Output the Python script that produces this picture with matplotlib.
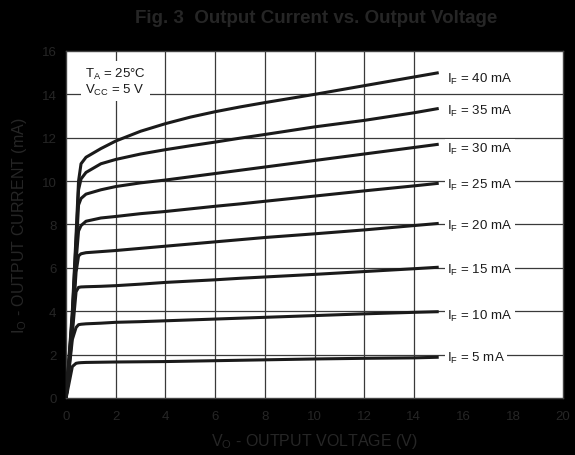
import matplotlib
matplotlib.use("Agg")
import matplotlib.pyplot as plt

plt.rcParams['font.family'] = ['Liberation Sans', 'DejaVu Sans']
plt.rcParams['mathtext.fontset'] = 'custom'
plt.rcParams['mathtext.rm'] = 'Liberation Sans'
plt.rcParams['mathtext.it'] = 'Liberation Sans'

# output voltage (V) sample points shared by all curves
vo = [0, 0.25, 0.4, 0.5, 0.6, 0.8, 1.4, 2, 3, 4, 5, 6, 7, 8, 10, 12, 14, 15]

# output current (mA) for each forward current
io_40 = [0, 4.0, 7.5, 10.0, 10.8, 11.1, 11.5, 11.85, 12.3, 12.65, 12.95, 13.2, 13.42, 13.62, 14.0, 14.4, 14.8, 15.0]
io_35 = [0, 3.8, 7.2, 9.6, 10.1, 10.4, 10.8, 11.0, 11.25, 11.45, 11.63, 11.8, 11.98, 12.15, 12.5, 12.8, 13.15, 13.35]
io_30 = [0, 3.6, 6.8, 8.9, 9.2, 9.4, 9.6, 9.75, 9.92, 10.05, 10.2, 10.35, 10.5, 10.65, 10.95, 11.25, 11.55, 11.7]
io_25 = [0, 3.4, 6.3, 7.7, 7.95, 8.15, 8.3, 8.37, 8.5, 8.6, 8.72, 8.84, 8.95, 9.07, 9.31, 9.55, 9.78, 9.9]
io_20 = [0, 3.2, 5.8, 6.55, 6.65, 6.7, 6.75, 6.8, 6.9, 7.0, 7.1, 7.2, 7.3, 7.4, 7.57, 7.75, 7.95, 8.05]
io_15 = [0, 3.0, 4.9, 5.1, 5.12, 5.13, 5.15, 5.18, 5.25, 5.33, 5.39, 5.45, 5.52, 5.58, 5.7, 5.83, 5.96, 6.03]
io_10 = [0, 2.7, 3.25, 3.38, 3.4, 3.42, 3.45, 3.49, 3.52, 3.56, 3.6, 3.64, 3.68, 3.72, 3.8, 3.88, 3.95, 3.98]
io_5 = [0, 1.45, 1.6, 1.62, 1.63, 1.64, 1.65, 1.66, 1.67, 1.68, 1.7, 1.72, 1.74, 1.76, 1.8, 1.83, 1.85, 1.88]

curves = [io_40, io_35, io_30, io_25, io_20, io_15, io_10, io_5]
if_labels = ['40', '35', '30', '25', '20', '15', '10', '5']
label_y = [14.75, 13.27, 11.52, 9.85, 7.95, 5.95, 3.8, 1.88]

xticks = [0, 2, 4, 6, 8, 10, 12, 14, 16, 18, 20]
yticks = [0, 2, 4, 6, 8, 10, 12, 14, 16]
xgrid = [2, 4, 6, 8, 10, 12, 14]
ygrid = [2, 4, 6, 8, 10, 12, 14]

dim = '#262626'

fig = plt.figure(figsize=(5.75, 4.56), dpi=100, facecolor='black')
ax = fig.add_axes([0.115, 0.125, 0.864, 0.761])
ax.set_facecolor('white')

for x in xgrid:
    ax.axvline(x, color='#3a3a3a', lw=0.9, zorder=1)
for y in ygrid:
    ax.axhline(y, color='#3a3a3a', lw=0.9, zorder=1)

for io in curves:
    ax.plot(vo, io, color='#1a1a1a', lw=2.2, solid_capstyle='butt', zorder=3)

for lab, y in zip(if_labels, label_y):
    ax.text(15.35, y, r'I$_\mathrm{F}$ = ' + lab + ' mA', fontsize=9.5, color='#1a1a1a',
            va='center', ha='left', zorder=4,
            bbox=dict(boxstyle='square,pad=0.15', fc='white', ec='none'))

ax.text(0.75, 14.6, 'T$_\\mathrm{A}$ = 25°C\nV$_\\mathrm{CC}$ = 5 V', fontsize=9.5,
        color='#1a1a1a', va='center', ha='left', linespacing=1.15, zorder=4,
        bbox=dict(boxstyle='square,pad=0.3', fc='white', ec='none'))

ax.set_xlim(0, 20)
ax.set_ylim(0, 16)
ax.set_xticks(xticks)
ax.set_yticks(yticks)
ax.tick_params(length=0, labelsize=9.5, labelcolor=dim)
ax.tick_params(axis='x', pad=9)
ax.tick_params(axis='y', pad=7)
for s in ax.spines.values():
    s.set_color('#444444')
    s.set_linewidth(1.0)

ax.set_xlabel('V$_\\mathrm{O}$ - OUTPUT VOLTAGE (V)', fontsize=11.5, color=dim, labelpad=6)
ax.set_ylabel('I$_\\mathrm{O}$ - OUTPUT CURRENT (mA)', fontsize=11.5, color=dim, labelpad=9)
fig.text(0.549, 0.96, 'Fig. 3  Output Current vs. Output Voltage', fontsize=13.5,
         fontweight='bold', color=dim, ha='center', va='center')

fig.savefig('out.png', dpi=100, facecolor='black')
